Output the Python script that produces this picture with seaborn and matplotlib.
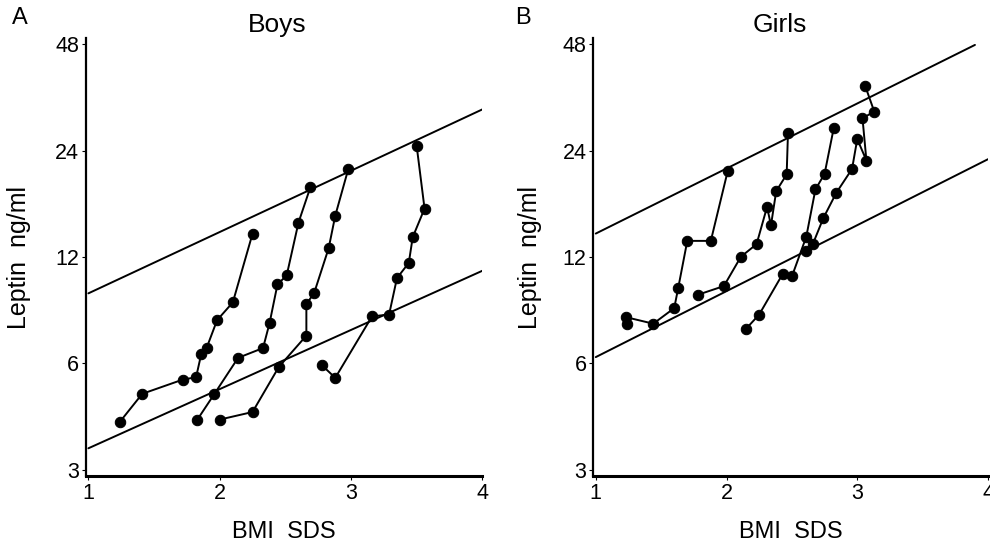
import numpy as np
import pandas as pd
import matplotlib
matplotlib.use("Agg")
import matplotlib.pyplot as plt
import seaborn as sns

# boys: bmi sds and leptin (ng/ml) per child, in visit order
boy1_bmi = [1.24, 1.41, 1.72, 1.82, 1.86, 1.90, 1.98, 2.10, 2.25]
boy1_lep = [4.10, 4.92, 5.40, 5.48, 6.39, 6.63, 7.95, 8.93, 13.97]
boy2_bmi = [1.83, 1.96, 2.14, 2.33, 2.38, 2.44, 2.51, 2.60, 2.69]
boy2_lep = [4.16, 4.92, 6.22, 6.63, 7.81, 10.04, 10.64, 15.02, 18.88]
boy3_bmi = [2.00, 2.25, 2.45, 2.66, 2.66, 2.72, 2.83, 2.88, 2.98]
boy3_lep = [4.16, 4.37, 5.86, 7.19, 8.82, 9.51, 12.72, 15.71, 21.34]
boy4_bmi = [2.78, 2.88, 3.16, 3.29, 3.35, 3.44, 3.47, 3.56, 3.50]
boy4_lep = [5.92, 5.46, 8.15, 8.25, 10.46, 11.55, 13.66, 16.45, 24.74]

# girls
girl1_bmi = [1.24, 1.23, 1.44, 1.60, 1.63, 1.70, 1.88, 2.01]
girl1_lep = [7.77, 8.11, 7.77, 8.60, 9.78, 13.33, 13.33, 21.07]
girl2_bmi = [1.78, 1.98, 2.11, 2.23, 2.31, 2.34, 2.38, 2.46, 2.47]
girl2_lep = [9.38, 9.93, 12.02, 13.05, 16.63, 14.75, 18.43, 20.55, 26.86]
girl3_bmi = [2.15, 2.25, 2.43, 2.50, 2.61, 2.68, 2.75, 2.82]
girl3_lep = [7.52, 8.25, 10.75, 10.57, 13.69, 18.64, 20.63, 27.79]
girl4_bmi = [2.61, 2.66, 2.74, 2.84, 2.96, 3.00, 3.07, 3.04, 3.13, 3.06]
girl4_lep = [12.50, 13.05, 15.45, 18.24, 21.30, 25.88, 22.50, 29.64, 30.96, 36.64]

# reference bands (straight on log scale)
boys_band_x = [1.0, 4.0]
boys_upper = [9.47, 31.4]
boys_lower = [3.45, 10.97]
girls_upper_x = [1.0, 3.9]
girls_upper = [13.98, 47.8]
girls_lower_x = [1.0, 4.0]
girls_lower = [6.25, 22.7]

y_ticks = [3, 6, 12, 24, 48]
x_ticks = [1, 2, 3, 4]


def to_frame(series):
    rows = []
    for i, (b, l) in enumerate(series):
        for k, (bb, ll) in enumerate(zip(b, l)):
            rows.append({"child": i, "visit": k, "bmi": bb, "leptin": ll})
    return pd.DataFrame(rows)


boys_df = to_frame([(boy1_bmi, boy1_lep), (boy2_bmi, boy2_lep),
                    (boy3_bmi, boy3_lep), (boy4_bmi, boy4_lep)])
girls_df = to_frame([(girl1_bmi, girl1_lep), (girl2_bmi, girl2_lep),
                     (girl3_bmi, girl3_lep), (girl4_bmi, girl4_lep)])

sns.set_style("ticks")
plt.rcParams["font.family"] = ["Liberation Sans", "DejaVu Sans"]
plt.rcParams["text.color"] = "black"
plt.rcParams["axes.labelcolor"] = "black"

fig = plt.figure(figsize=(9.9, 5.47), dpi=100)
ax1 = fig.add_axes([0.0869, 0.1298, 0.4003, 0.8007])
ax2 = fig.add_axes([0.5994, 0.1298, 0.3986, 0.8007])

panels = [
    (ax1, boys_df, "Boys", 0.482, -0.14,
     [(boys_band_x, boys_upper), (boys_band_x, boys_lower)]),
    (ax2, girls_df, "Girls", 0.473, -0.13,
     [(girls_upper_x, girls_upper), (girls_lower_x, girls_lower)]),
]

for ax, df, title, tx, ylx, bands in panels:
    for bx, by in bands:
        ax.plot(bx, by, color="black", lw=1.4)
    sns.lineplot(data=df, x="bmi", y="leptin", units="child", estimator=None,
                 sort=False, color="black", lw=1.4, marker="o", markersize=7.5,
                 markeredgecolor="black", ax=ax, legend=False)
    ax.set_yscale("log")
    ax.set_xlim(0.982, 4.0)
    ax.set_ylim(2.88, 50)
    ax.set_yticks(y_ticks)
    ax.set_yticklabels([str(t) for t in y_ticks])
    ax.yaxis.set_minor_locator(matplotlib.ticker.NullLocator())
    ax.set_xticks(x_ticks)
    ax.set_xticklabels([str(t) for t in x_ticks])
    ax.tick_params(axis="both", direction="out", length=3, width=0.8,
                   labelsize=15.5, pad=2, colors="black")
    for side in ["top", "right"]:
        ax.spines[side].set_visible(False)
    ax.spines["left"].set_linewidth(1.6)
    ax.spines["bottom"].set_linewidth(2.2)
    ax.spines["left"].set_color("black")
    ax.spines["bottom"].set_color("black")
    ax.set_xlabel("BMI  SDS", fontsize=17, color="black")
    ax.set_ylabel("Leptin  ng/ml", fontsize=18, color="black")
    ax.xaxis.set_label_coords(0.5, -0.103)
    ax.yaxis.set_label_coords(ylx, 0.5)
    ax.set_title(title, fontsize=19, x=tx, y=1.0, pad=4, color="black")
    ax.grid(False)

fig.text(12 / 990, 1 - 18 / 547, "A", fontsize=17, va="center", ha="left", color="black")
fig.text(515 / 990, 1 - 18 / 547, "B", fontsize=17, va="center", ha="left", color="black")

plt.savefig("out.png", dpi=100, facecolor="white")
